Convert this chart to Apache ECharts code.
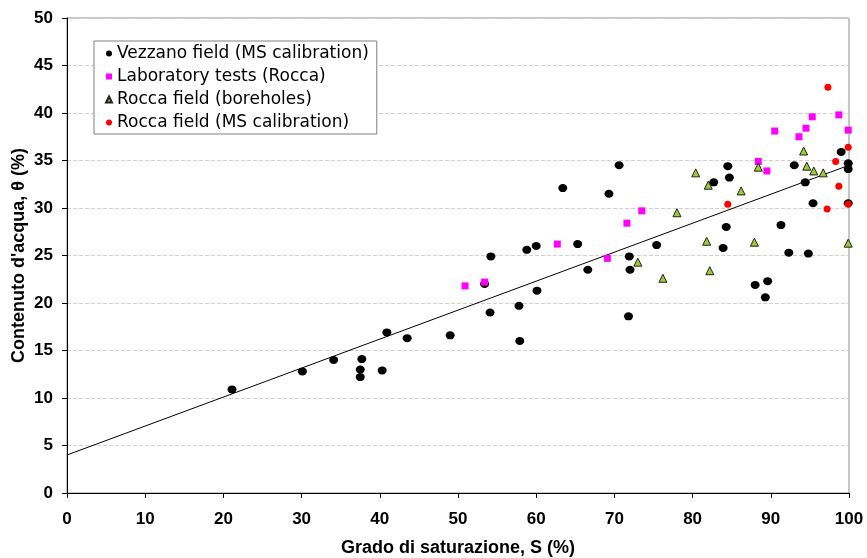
<!DOCTYPE html>
<html>
<head>
<meta charset="utf-8">
<script src="https://cdn.jsdelivr.net/npm/echarts@6/dist/echarts.min.js"></script>
<style>
  html, body { margin: 0; padding: 0; background: #fff; }
  #chart { width: 867px; height: 558px; }
</style>
</head>
<body>
<div id="chart"></div>
<script>
// data: [S (%), theta (%)]
var vezzano = [
  [21.1, 10.9], [30.1, 12.8], [34.1, 14.0], [37.5, 12.2], [37.5, 13.0], [37.7, 14.1],
  [40.3, 12.9], [40.9, 16.9], [43.5, 16.3], [49.0, 16.6], [53.4, 22.0], [54.1, 19.0],
  [54.2, 24.9], [57.8, 19.7], [57.9, 16.0], [58.8, 25.6], [60.0, 26.0], [60.1, 21.3],
  [63.4, 32.1], [65.3, 26.2], [66.6, 23.5], [69.3, 31.5], [70.6, 34.5], [71.9, 24.9],
  [72.0, 23.5], [71.8, 18.6], [75.4, 26.1], [82.7, 32.7], [83.9, 25.8], [84.3, 28.0],
  [84.5, 34.4], [84.7, 33.2], [88.0, 21.9], [89.3, 20.6], [89.6, 22.3], [91.3, 28.2],
  [92.3, 25.3], [93.0, 34.5], [94.4, 32.7], [94.8, 25.2], [95.4, 30.5], [99.0, 35.9],
  [99.9, 34.7], [99.9, 34.1], [99.9, 30.5]
];
var labTests = [
  [50.9, 21.8], [53.4, 22.2], [62.7, 26.2], [69.1, 24.7], [71.6, 28.4], [73.5, 29.7],
  [88.4, 34.9], [89.5, 33.9], [90.5, 38.1], [93.6, 37.5], [94.5, 38.4], [95.3, 39.6],
  [98.7, 39.8], [99.9, 38.2]
];
var boreholes = [
  [73.0, 24.3], [76.2, 22.6], [78.0, 29.5], [80.4, 33.7], [81.8, 26.5], [82.0, 32.4],
  [82.2, 23.4], [86.2, 31.8], [87.9, 26.4], [88.4, 34.3], [94.2, 36.0], [94.6, 34.4],
  [95.5, 33.9], [96.7, 33.7], [99.9, 26.3]
];
var roccaMS = [
  [84.5, 30.4], [97.2, 29.9], [97.3, 42.7], [98.3, 34.9], [98.7, 32.3], [99.9, 36.4],
  [99.9, 30.4]
];
// regression line end points
var fitLine = [[0, 4.0], [100, 34.5]];

var seriesNames = [
  'Vezzano field (MS calibration)',
  'Laboratory tests (Rocca)',
  'Rocca field (boreholes)',
  'Rocca field (MS calibration)'
];

var chart = echarts.init(document.getElementById('chart'));
var font = 'Liberation Sans, Arial, sans-serif';

var option = {
  animation: false,
  grid: {
    left: 67, right: 18, top: 18, bottom: 65,
    containLabel: false,
    outerBoundsMode: 'none',
    show: true, borderColor: '#8c8c8c', borderWidth: 1
  },
  legend: {
    orient: 'vertical',
    left: 94, top: 41,
    padding: [4, 8, 3, 11],
    itemGap: 6,
    itemWidth: 6,
    itemHeight: 6,
    borderColor: '#808080',
    borderWidth: 1,
    borderRadius: 0,
    backgroundColor: '#fff',
    textStyle: { fontFamily: 'DejaVu Sans', fontSize: 17, color: '#000' },
    data: [
      { name: seriesNames[0], icon: 'circle' },
      { name: seriesNames[1], icon: 'rect' },
      { name: seriesNames[2], icon: 'triangle' },
      { name: seriesNames[3], icon: 'circle' }
    ]
  },
  xAxis: {
    type: 'value',
    min: 0, max: 100, interval: 10,
    name: 'Grado di saturazione, S (%)',
    nameLocation: 'middle',
    nameGap: 46,
    nameMoveOverlap: false,
    nameTextStyle: { fontFamily: font, fontSize: 18, fontWeight: 'bold', color: '#000' },
    axisLine: { lineStyle: { color: '#000' } },
    axisTick: { show: true, length: 5, lineStyle: { color: '#000' } },
    axisLabel: { fontFamily: font, fontSize: 17, fontWeight: 'bold', color: '#000', margin: 18 },
    splitLine: { show: false }
  },
  yAxis: {
    type: 'value',
    min: 0, max: 50, interval: 5,
    name: 'Contenuto d\'acqua, θ (%)',
    nameLocation: 'middle',
    nameGap: 39,
    nameMoveOverlap: false,
    nameTextStyle: { fontFamily: font, fontSize: 18, fontWeight: 'bold', color: '#000' },
    axisLine: { lineStyle: { color: '#000' } },
    axisTick: { show: true, length: 5, lineStyle: { color: '#000' } },
    axisLabel: { fontFamily: font, fontSize: 17, fontWeight: 'bold', color: '#000', margin: 14 },
    splitLine: { show: true, lineStyle: { color: '#d0d0d0', type: 'dashed' } }
  },
  series: [
    {
      name: 'fit', type: 'line', data: fitLine, showSymbol: false, symbol: 'none',
      lineStyle: { color: '#000', width: 1 }, z: 1
    },
    {
      name: seriesNames[0], type: 'scatter', data: vezzano, symbol: 'circle', symbolSize: [9, 8],
      itemStyle: { color: '#000', opacity: 1 }
    },
    {
      name: seriesNames[1], type: 'scatter', data: labTests, symbol: 'rect', symbolSize: 7,
      itemStyle: { color: '#ff00ff', opacity: 1 }
    },
    {
      name: seriesNames[2], type: 'scatter', data: boreholes, symbol: 'triangle', symbolSize: 8,
      itemStyle: { color: '#9acd32', borderColor: '#222', borderWidth: 1, opacity: 1 }
    },
    {
      name: seriesNames[3], type: 'scatter', data: roccaMS, symbol: 'circle', symbolSize: 7,
      itemStyle: { color: '#ff0000', opacity: 1 }
    }
  ]
};

chart.setOption(option);
</script>
</body>
</html>
